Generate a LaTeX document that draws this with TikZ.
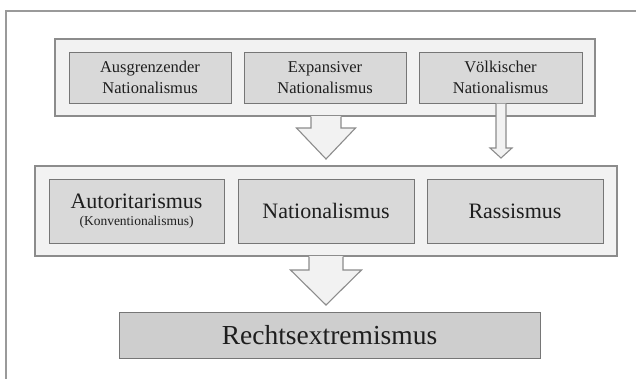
\documentclass[tikz,border=0pt]{standalone}
\usepackage{fontspec}
\setmainfont{Liberation Serif}
\newfontfamily\lserif{Liberation Serif}
\definecolor{framegray}{HTML}{9A9A9A}
\definecolor{contline}{HTML}{8C8C8C}
\definecolor{contfill}{HTML}{F2F2F2}
\definecolor{boxline}{HTML}{767676}
\definecolor{boxfill}{HTML}{D9D9D9}
\definecolor{txt}{HTML}{1E1E1E}
\begin{document}
\begin{tikzpicture}[x=1pt,y=-1pt,
  container/.style={draw=contline, fill=contfill, line width=1.2pt, inner sep=0pt, outer sep=0pt},
  topbox/.style={draw=boxline, fill=boxfill, line width=1pt, inner sep=0pt, outer sep=0pt,
    minimum width=162pt, minimum height=51pt, align=center, text=txt,
    font=\lserif\fontsize{16.5}{21}\selectfont},
  midbox/.style={draw=boxline, fill=boxfill, line width=1pt, inner sep=0pt, outer sep=0pt,
    minimum width=176pt, minimum height=64pt, align=center, text=txt,
    font=\lserif\fontsize{22}{18}\selectfont},
  botbox/.style={draw=boxline, fill=boxfill!95!black, line width=1pt, inner sep=0pt, outer sep=0pt,
    minimum width=421pt, minimum height=46pt, text=txt,
    font=\lserif\fontsize{27.5}{30}\selectfont},
  blockfill/.style={fill=contfill},
  blockline/.style={draw=contline, line width=1.1pt, line join=miter},
]
\useasboundingbox (0,0) rectangle (636,378);
\fill[white] (0,0) rectangle (636,378);
% outer frame (partially cropped)
\draw[framegray, line width=1.2pt] (6,380) -- (6,11) -- (640,11);

% top container and boxes
\node[container, minimum width=540pt, minimum height=77pt] (topc) at (325,77.5) {};
\node[topbox] (b1) at (150,77.5) {Ausgrenzender\\Nationalismus};
\node[topbox] (b2) at (325,77.5) {Expansiver\\Nationalismus};
\node[topbox, minimum width=163pt] (b3) at (500.5,77.5) {Völkischer\\Nationalismus};

% middle container and boxes
\node[container, minimum width=582pt, minimum height=90pt] (midc) at (326,211) {};
\node[midbox, minimum width=175pt] (m1) at (136.5,211)
  {Autoritarismus\\[-1pt]{\fontsize{13.5}{15}\selectfont(Konventionalismus)}};
\node[midbox] (m2) at (326,211) {Nationalismus};
\node[midbox] (m3) at (515,211) {Rassismus};

% bottom box
\node[botbox] (bot) at (329.5,335) {Rechtsextremismus};

% big arrow: top container -> middle container
\fill[blockfill] (311,116) -- (311,128) -- (296.5,128) -- (326,159) -- (355.5,128) -- (341,128) -- (341,116) -- cycle;
\draw[blockline] (311,116.6) -- (311,128) -- (296.5,128) -- (326,159) -- (355.5,128) -- (341,128) -- (341,116.6);

% small arrow: Völkischer Nationalismus -> middle container
\fill[blockfill] (496,103.5) -- (496,148) -- (490,148) -- (501,158) -- (512,148) -- (506,148) -- (506,103.5) -- cycle;
\draw[blockline] (496,103.5) -- (496,148) -- (490,148) -- (501,158) -- (512,148) -- (506,148) -- (506,103.5);

% bottom arrow: middle container -> Rechtsextremismus
\fill[blockfill] (309,256) -- (309,270) -- (290.5,270) -- (326,305) -- (361.5,270) -- (343,270) -- (343,256) -- cycle;
\draw[blockline] (309,256.6) -- (309,270) -- (290.5,270) -- (326,305) -- (361.5,270) -- (343,270) -- (343,256.6);
\end{tikzpicture}
\end{document}
